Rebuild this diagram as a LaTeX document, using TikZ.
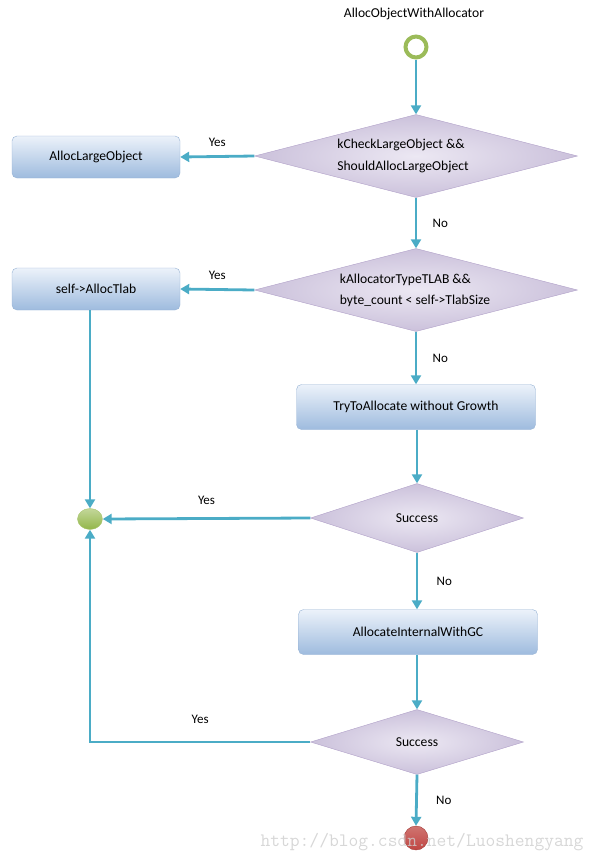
\documentclass[tikz,border=0pt]{standalone}
\usepackage{fontspec}
\setmainfont{Carlito}
\usepackage{tikz}
\usetikzlibrary{
  arrows.meta, % for prettier arrows
  shapes.geometric, % for diamond nodes
  positioning, % for relative node positioning
}
\definecolor{flow-teal}{RGB}{75, 172, 198}
\definecolor{box-light}{RGB}{236, 242, 250}
\definecolor{box-dark}{RGB}{158, 187, 222}
\definecolor{box-border}{RGB}{150, 178, 212}
\definecolor{dia-light}{RGB}{236, 232, 243}
\definecolor{dia-dark}{RGB}{203, 193, 219}
\definecolor{dia-border}{RGB}{176, 160, 200}
\definecolor{start-green}{RGB}{155, 187, 89}
\definecolor{join-green}{RGB}{146, 182, 72}
\definecolor{stop-red}{RGB}{192, 70, 66}
\definecolor{mark-grey}{RGB}{205, 205, 205}

\begin{document}
\begin{tikzpicture}[%
    x=1pt, y=-1pt,%
    font=\fontsize{13.6}{16}\selectfont,%
    process/.style={rectangle, rounded corners=5pt, draw=box-border,%
      top color=box-light, bottom color=box-dark, inner sep=2pt},%
    decision/.style={diamond, draw=dia-border, inner color=dia-light,%
      outer color=dia-dark, inner sep=0pt, aspect=3.5, align=left},%
    flow/.style={draw=flow-teal, line width=2.8pt,%
      -{Triangle[length=9pt, width=10pt]}},%
    branch/.style={font=\fontsize{13}{15}\selectfont},%
    ]
    \useasboundingbox (0,0) rectangle (595,863);

    % title and start
    \node (title) at (414,14) {AllocObjectWithAllocator};
    \node[circle, draw=start-green, line width=4pt, fill=white,%
      minimum size=21pt, inner sep=0pt] (start) at (416,47) {};

    % decisions and actions on the main column
    \node[decision, minimum width=323pt, minimum height=83pt] (large) at (416,156)
      {kCheckLargeObject \&\&\\[6pt]ShouldAllocLargeObject\hspace*{26pt}};
    \node[decision, minimum width=323pt, minimum height=83pt] (tlab) at (416,290)
      {kAllocatorTypeTLAB \&\&\\[5pt]byte\_count < self->TlabSize\hspace*{2pt}};
    \node[process, minimum width=239pt, minimum height=45pt] (trynogrow) at (416,407)
      {TryToAllocate without Growth};
    \node[decision, minimum width=213pt, minimum height=69pt] (success1) at (417,518)
      {Success};
    \node[process, minimum width=239pt, minimum height=45pt] (withgc) at (418,632)
      {AllocateInternalWithGC};
    \node[decision, minimum width=213pt, minimum height=65pt] (success2) at (417,742)
      {Success};
    \node[circle, inner sep=0pt, minimum size=24pt, draw=stop-red!85!black,%
      top color=stop-red!75!white, bottom color=stop-red] (stop) at (416,838) {};

    % side column
    \node[process, minimum width=168pt, minimum height=42pt] (largeobj) at (96,157)
      {AllocLargeObject};
    \node[process, minimum width=168pt, minimum height=42pt] (alloctlab) at (96,289)
      {self->AllocTlab};
    \node[ellipse, inner sep=0pt, minimum width=25pt, minimum height=21pt,%
      draw=join-green!80!white, top color=join-green!55!white,%
      bottom color=join-green] (join) at (90,519) {};

    % connectors
    \draw[flow] (start) -- (large);
    \draw[flow] (large.west) -- node[branch, above=5pt] {Yes} (largeobj.east);
    \draw[flow] (large.south) -- node[branch, right=12pt] {No} (tlab.north);
    \draw[flow] (tlab.west) -- node[branch, above=5pt] {Yes} (alloctlab.east);
    \draw[flow] (tlab.south) -- node[branch, right=12pt] {No} (trynogrow.north);
    \draw[flow] (trynogrow.south -| success1) -- (success1.north);
    \draw[flow] (success1.west) -- node[branch, above=9pt] {Yes} (join.east);
    \draw[flow] (alloctlab.south -| join) -- (join.north);
    \draw[flow] (success1.south) -- node[branch, right=15pt] {No} (withgc.north -| success1);
    \draw[flow] (withgc.south -| success2) -- (success2.north);
    \draw[flow] (success2.west) -| node[branch, pos=0.25, above=14pt] {Yes} (join.south);
    \draw[flow] (success2.south) -- node[branch, right=15pt] {No} (stop.north);

    % watermark
    \node[text=mark-grey, opacity=0.8, font=\fontsize{19}{21}\ttfamily] (mark) at (422,842)
      {http://blog.csdn.net/Luoshengyang};
  \end{tikzpicture}
\end{document}
